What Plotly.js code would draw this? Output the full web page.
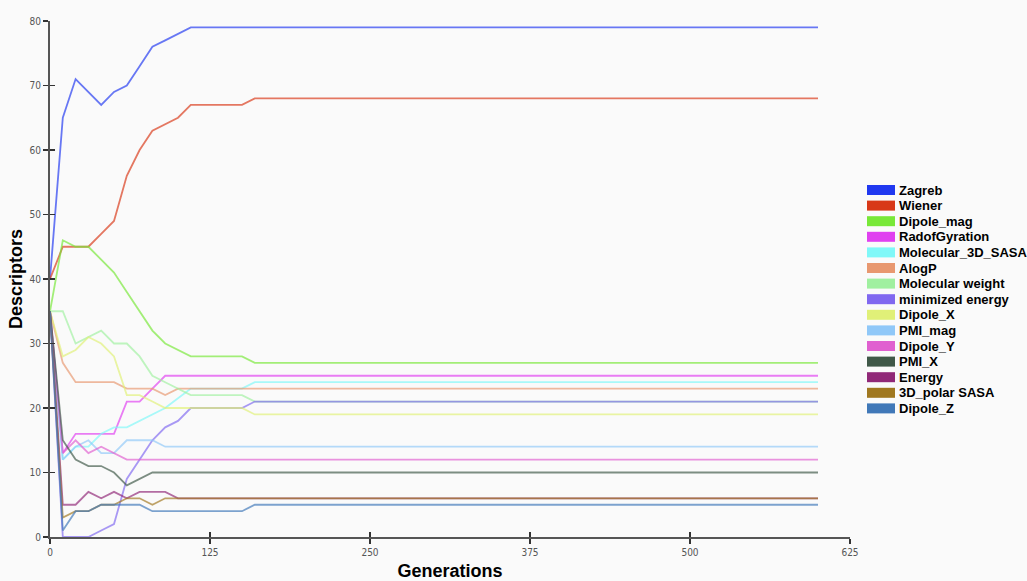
<!DOCTYPE html>
<html><head><meta charset="utf-8">
<script src="https://cdn.plot.ly/plotly-3.0.1.min.js"></script>
<style>html,body{margin:0;padding:0;background:#fafafa}</style>
</head><body>
<div id="chart" style="width:1027px;height:581px"></div>
<script>
// ---- data ----
const generations = [0,10,20,30,40,50,60,70,80,90,100,110,120,130,140,150,160,600];
const seriesNames = ["Zagreb","Wiener","Dipole_mag","RadofGyration","Molecular_3D_SASA","AlogP","Molecular weight","minimized energy","Dipole_X","PMI_mag","Dipole_Y","PMI_X","Energy","3D_polar SASA","Dipole_Z"];
const zagreb          = [40,65,71,69,67,69,70,73,76,77,78,79,79,79,79,79,79,79];
const wiener          = [40,45,45,45,47,49,56,60,63,64,65,67,67,67,67,67,68,68];
const dipoleMag       = [35,46,45,45,43,41,38,35,32,30,29,28,28,28,28,28,27,27];
const radofGyration   = [35,13,16,16,16,16,21,21,23,25,25,25,25,25,25,25,25,25];
const molecular3dSasa = [35,12,14,14,16,17,17,18,19,20,21.5,23,23,23,23,23,24,24];
const alogP           = [35,27,24,24,24,24,23,23,23,22,23,23,23,23,23,23,23,23];
const molWeight       = [35,35,30,31,32,30,30,28,25,24,23,22,22,22,22,22,21,21];
const minimizedEnergy = [35,0,0,0,1,2,9,12,15,17,18,20,20,20,20,20,21,21];
const dipoleX         = [35,28,29,31,30,28,22,22,21,20,20,20,20,20,20,20,19,19];
const pmiMag          = [35,12,14,15,13,13,15,15,15,14,14,14,14,14,14,14,14,14];
const dipoleY         = [35,13,15,13,14,13,12,12,12,12,12,12,12,12,12,12,12,12];
const pmiX            = [35,15,12,11,11,10,8,9,10,10,10,10,10,10,10,10,10,10];
const energy          = [35,5,5,7,6,7,6,7,7,7,6,6,6,6,6,6,6,6];
const polarSasa3d     = [35,3,4,4,5,5,6,6,5,6,6,6,6,6,6,6,6,6];
const dipoleZ         = [35,1,4,4,5,5,5,5,4,4,4,4,4,4,4,4,5,5];
const xTicks = [0,125,250,375,500,625];
const yTicks = [0,10,20,30,40,50,60,70,80];

const seriesValues = [zagreb,wiener,dipoleMag,radofGyration,molecular3dSasa,alogP,molWeight,minimizedEnergy,dipoleX,pmiMag,dipoleY,pmiX,energy,polarSasa3d,dipoleZ];
const palette = ["#2038f0","#d83818","#78e838","#e040f0","#80f8f8","#e89870","#a0f0a0","#8068f0","#e0f078","#90c8f8","#e060d0","#405848","#902878","#a07820","#4078b8"];

// ---- traces ----
const traces = seriesNames.map((n,i)=>({
  x: generations, y: seriesValues[i], name: n, type:'scatter', mode:'lines',
  line:{color: palette[i], width:1.8}, opacity:0.68, showlegend:false
}));
traces.push({x:[], y:[], xaxis:'x2', yaxis:'y2', type:'scatter', mode:'lines', showlegend:false, hoverinfo:'skip'});

// ---- manual legend (shapes + text) ----
const L = 50, T = 21, W = 800, H = 516;
const px2x = p => (p - L)/W;
const py2y = p => (T + H - p)/H;
const shapes = [], annotations = [];
seriesNames.forEach((n,i)=>{
  const cy = 190 + i*15.6;
  shapes.push({type:'rect', xref:'paper', yref:'paper', x0:px2x(867), x1:px2x(895), y0:py2y(cy+5), y1:py2y(cy-5), fillcolor:palette[i], line:{width:0}});
  annotations.push({xref:'paper', yref:'paper', x:px2x(897), y:py2y(cy), xanchor:'left', yanchor:'middle', showarrow:false, text:'<b>'+n+'</b>', font:{family:'Liberation Sans, Arial, sans-serif', size:13, color:'#000'}});
});

const tickFont = {family:'Liberation Sans Narrow, DejaVu Sans Condensed, sans-serif', size:10, color:'#555'};
const layout = {
  width:1027, height:581,
  margin:{l:L, r:1027-L-W, t:T, b:581-T-H},
  paper_bgcolor:'#fafafa', plot_bgcolor:'#fafafa',
  showlegend:false,
  xaxis:{range:[0,625], tickvals:xTicks, ticktext:xTicks.map(String), ticks:'outside', ticklen:5, tickwidth:1.5, tickcolor:'#333',
    showline:true, linecolor:'#555', linewidth:2, showgrid:false, zeroline:false, tickfont:tickFont,
    title:{text:'<b>Generations</b>', font:{family:'Liberation Sans, Arial, sans-serif', size:18, color:'#000'}, standoff:8}},
  yaxis:{range:[0,80], tickvals:yTicks, ticktext:yTicks.map(String), ticks:'outside', ticklen:5, tickwidth:1.5, tickcolor:'#333',
    showline:true, linecolor:'#555', linewidth:2, showgrid:false, zeroline:false, tickfont:tickFont,
    title:{text:'<b>Descriptors</b>', font:{family:'Liberation Sans, Arial, sans-serif', size:18, color:'#000'}, standoff:2}},
  xaxis2:{overlaying:'x', anchor:'y2', range:[0,625], tickvals:xTicks, ticks:'inside', ticklen:5, tickwidth:1.5, tickcolor:'#333', showticklabels:false, showline:false, showgrid:false, zeroline:false},
  yaxis2:{overlaying:'y', anchor:'x2', range:[0,80], tickvals:yTicks, ticks:'inside', ticklen:5, tickwidth:1.5, tickcolor:'#333', showticklabels:false, showline:false, showgrid:false, zeroline:false},
  shapes: shapes, annotations: annotations
};
Plotly.newPlot('chart', traces, layout, {displayModeBar:false, staticPlot:true});
</script>
</body></html>
